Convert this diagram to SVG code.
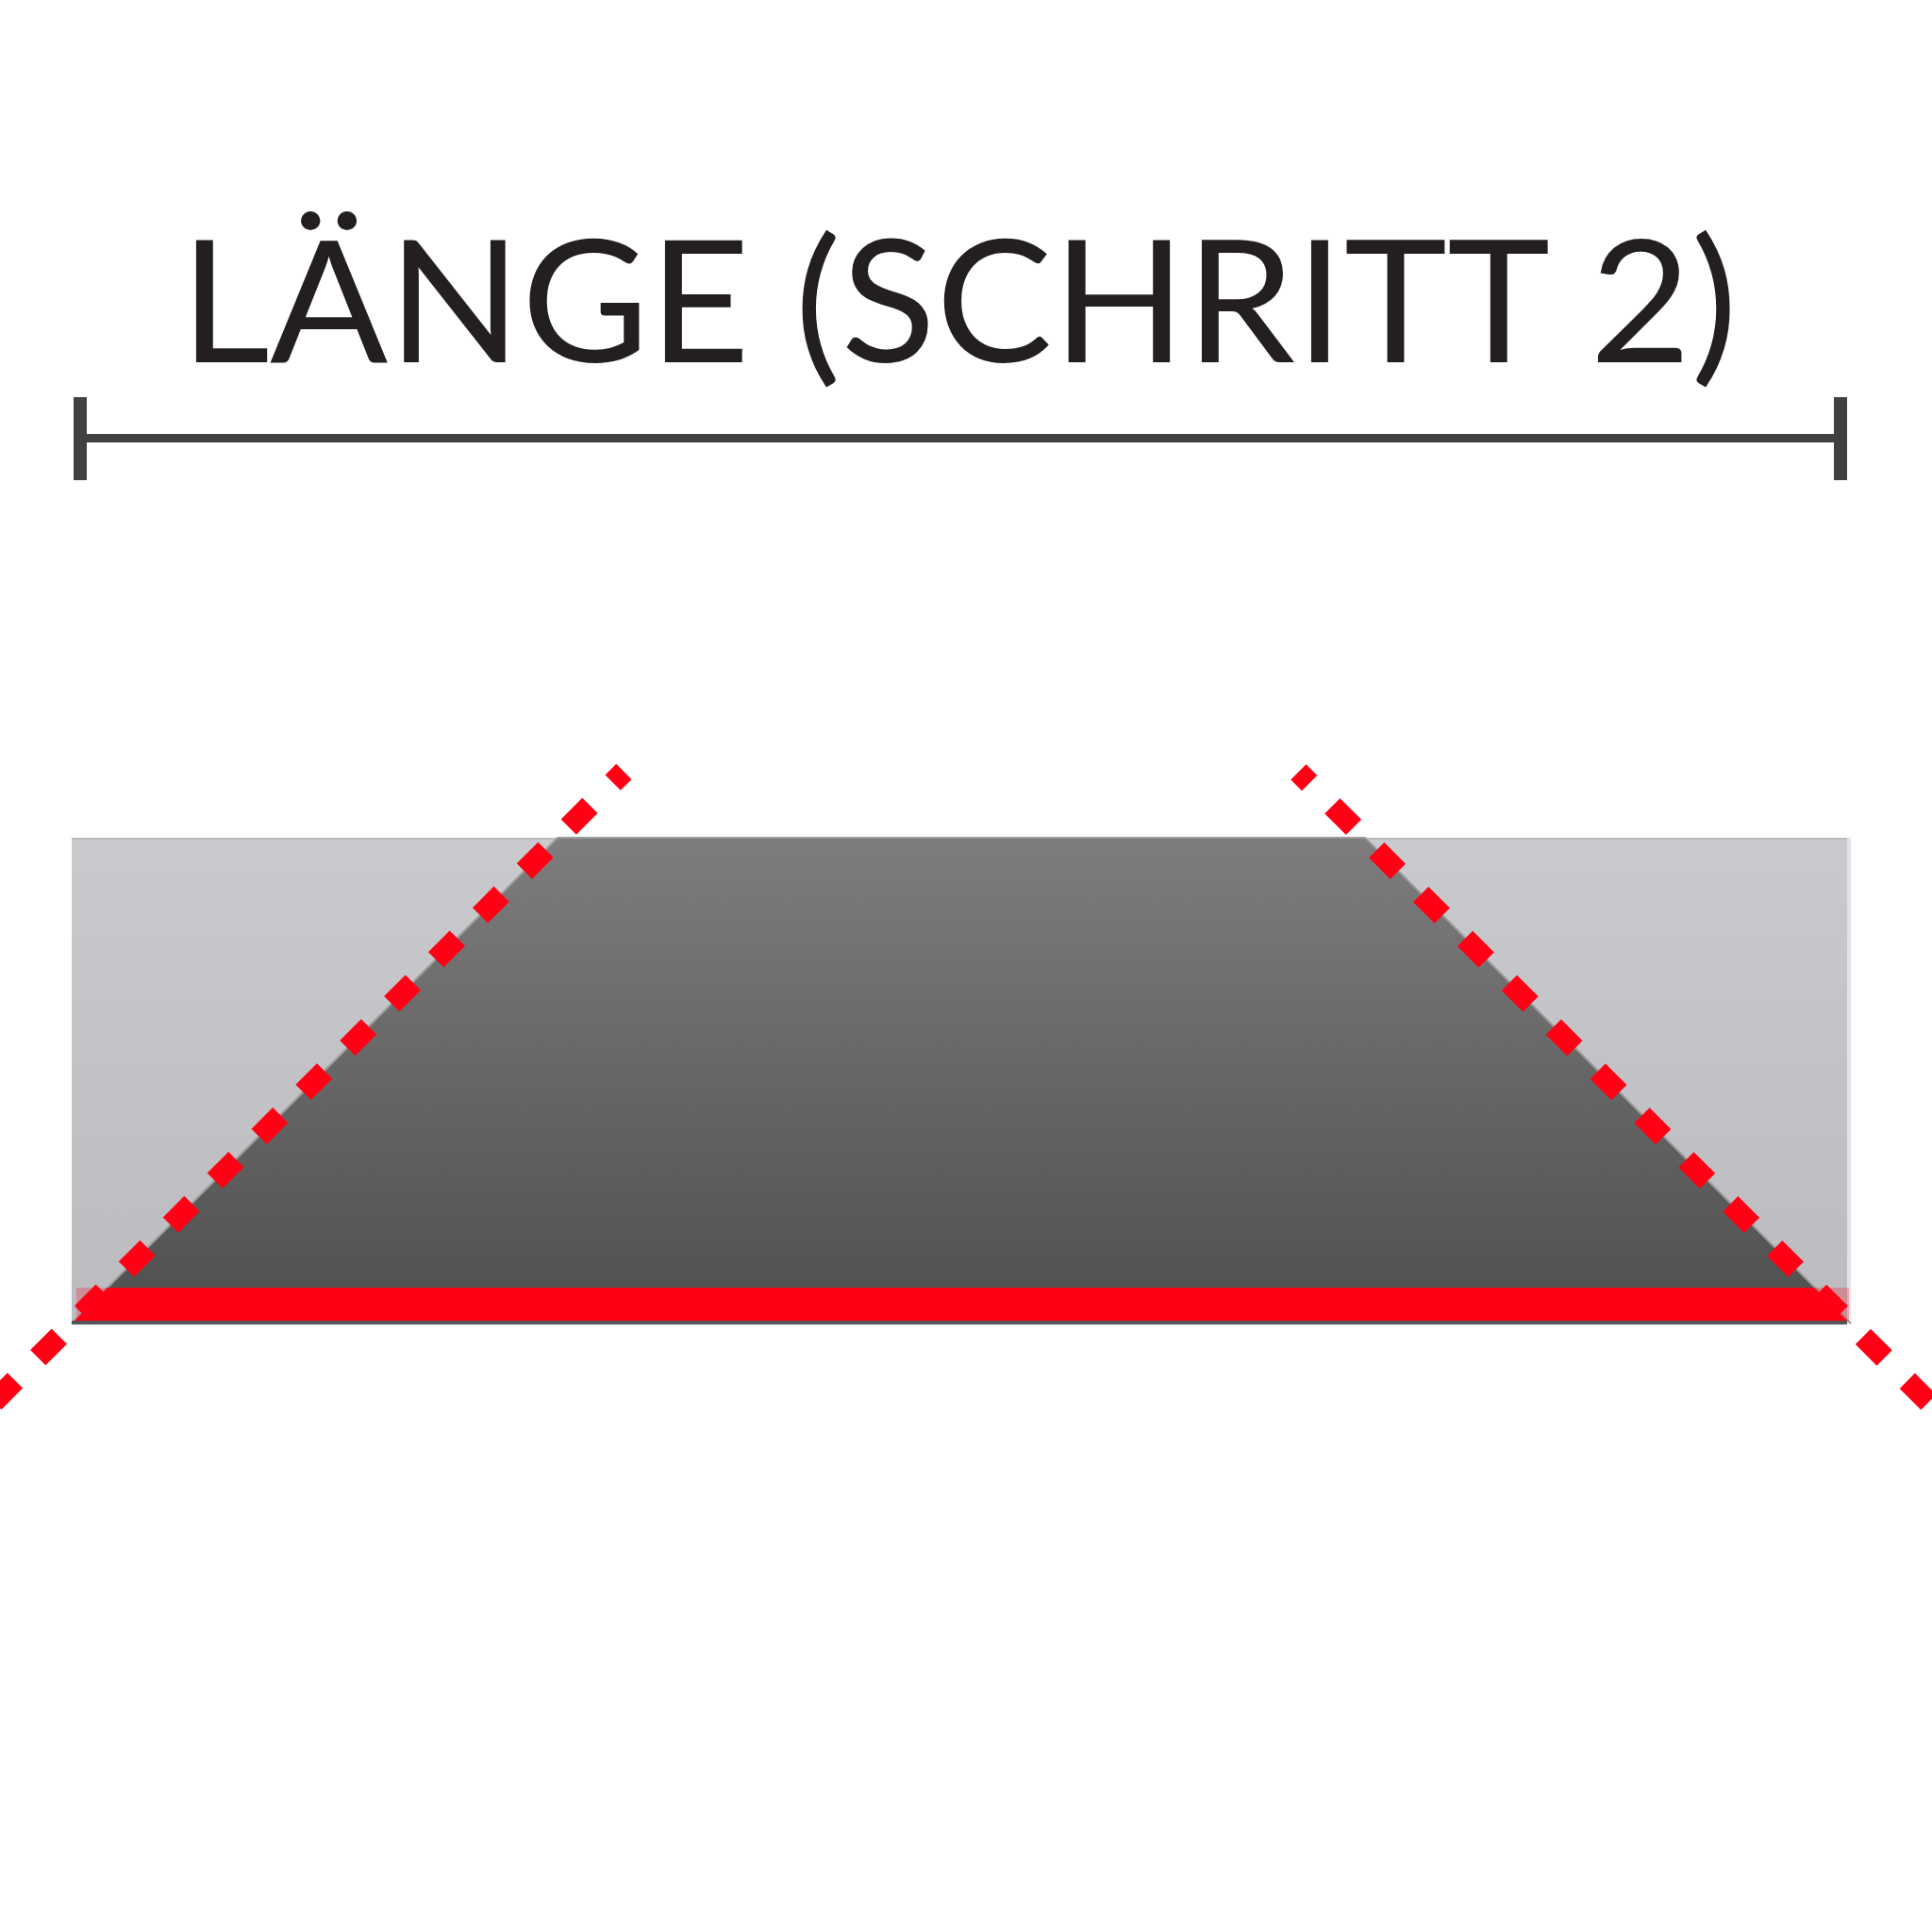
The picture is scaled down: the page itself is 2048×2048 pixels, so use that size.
<svg xmlns="http://www.w3.org/2000/svg" width="2048" height="2048" viewBox="0 0 2048 2048">
  <style>
    .title { font-family: "Lato", "Liberation Sans", sans-serif; font-size: 180px; fill: #231f20; }
    .dim { fill: #414141; }
    .dash { fill: none; stroke: #ff0014; stroke-width: 23; stroke-dasharray: 32 34.3; stroke-dashoffset: 15.4; }
    .edge { fill: none; stroke: #9c9c9c; stroke-width: 2; }
  </style>
  <defs>
    <linearGradient id="lightGrad" x1="0" y1="0" x2="0" y2="1">
      <stop offset="0" stop-color="#c9cacd"/>
      <stop offset="1" stop-color="#bbbbc0"/>
    </linearGradient>
    <linearGradient id="darkGrad" x1="0" y1="0" x2="0" y2="1">
      <stop offset="0" stop-color="#7e7c7c"/>
      <stop offset="1" stop-color="#4f4f4f"/>
    </linearGradient>
  </defs>
  <rect width="2048" height="2048" fill="#ffffff"/>

  <g id="title">
    <text class="title" x="191" y="384" textLength="1651" lengthAdjust="spacingAndGlyphs">LÄNGE (SCHRITT 2)</text>
  </g>

  <g id="dimension">
    <rect class="dim" x="78" y="421" width="14" height="88"/>
    <rect class="dim" x="1944" y="421" width="14" height="88"/>
    <rect class="dim" x="85" y="460" width="1866" height="9"/>
  </g>

  <g id="board">
    <rect x="76" y="888" width="1882" height="515" fill="url(#lightGrad)"/>
    <rect x="1958" y="888" width="4" height="515" fill="#e2e3e6"/>
    <line x1="76" y1="889" x2="1958" y2="889" stroke="#b9babd" stroke-width="2"/>
    <polygon points="591,888 1447,888 1958,1399 1958,1403 76,1403" fill="url(#darkGrad)"/>
    <polyline class="edge" points="76,1403 591,888 1447,888 1962,1403"/>
    <rect x="76" y="1400" width="1882" height="4" fill="#555555"/>
  </g>

  <g id="base-line">
    <rect x="81" y="1365" width="1879" height="35" fill="#ff0014" opacity="0.25"/>
    <polygon points="114,1365 1923,1365 1958,1400 79,1400" fill="#ff0014"/>
  </g>

  <g id="connectors">
    <line class="dash" x1="661.4" y1="818" x2="-60" y2="1539.4"/>
    <line class="dash" x1="1376.4" y1="818.3" x2="2100" y2="1541.9"/>
  </g>
</svg>
